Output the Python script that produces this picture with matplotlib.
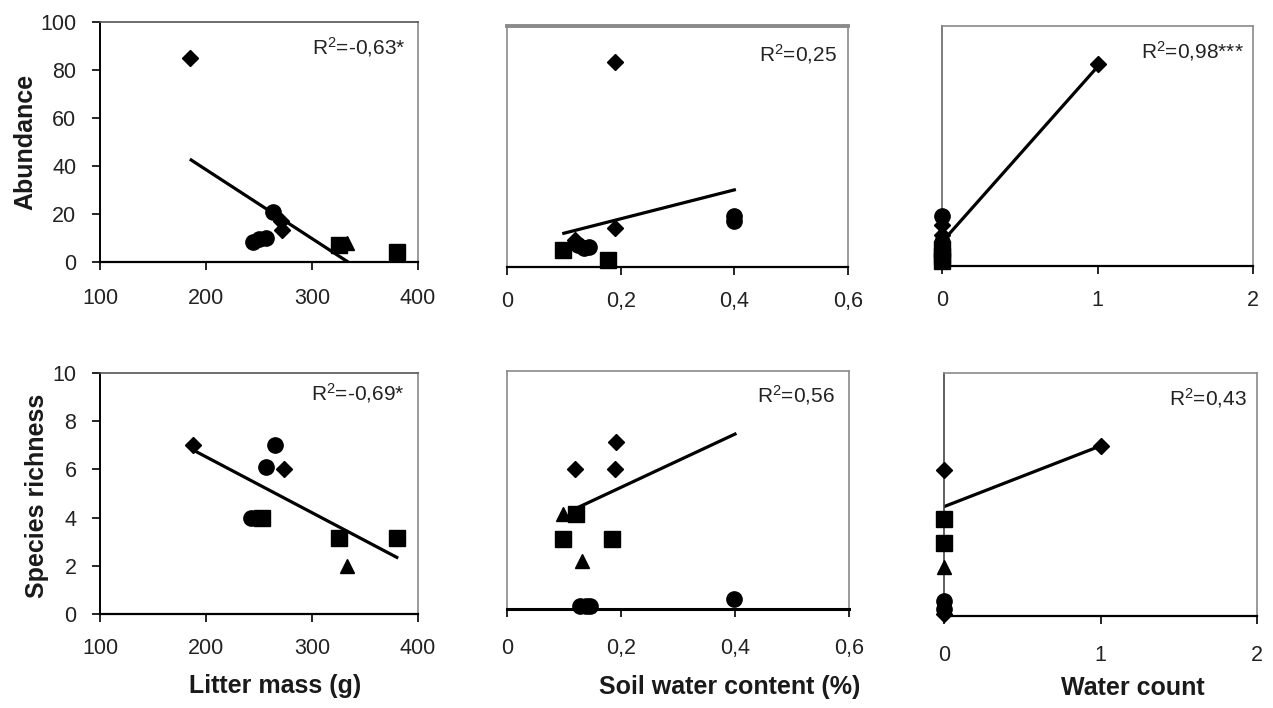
import numpy as np
from matplotlib import pyplot as plt

plt.rcParams['font.family'] = ['Liberation Sans', 'DejaVu Sans']
plt.rcParams['mathtext.default'] = 'regular'

# ---- data: marker -> (x values, y values) ----
# litter mass (g)
litter_abund = {
    'D': ([185, 271, 272], [85, 17, 13.5]),
    'o': ([263, 244, 250, 257], [21, 8.5, 9.5, 10]),
    's': ([325, 380], [7, 4]),
    '^': ([333], [8]),
}
litter_abund_fit = ([186, 334], [42.5, 0])
litter_abund_r2 = "R$^2$=-0,63*"

litter_rich = {
    'D': ([188, 274], [7.0, 6.0]),
    'o': ([265, 257, 242, 247], [7.0, 6.1, 4.0, 4.0]),
    's': ([253, 325, 380], [4.0, 3.15, 3.15]),
    '^': ([333], [2.0]),
}
litter_rich_fit = ([188, 380], [6.8, 2.35])
litter_rich_r2 = "R$^2$=-0,69*"

# soil water content (%)
soil_abund = {
    'D': ([0.19, 0.19, 0.12], [85, 16, 11]),
    'o': ([0.40, 0.40, 0.125, 0.135, 0.145], [21, 19, 9, 8, 8.5]),
    's': ([0.098, 0.177], [7, 3]),
}
soil_abund_fit = ([0.10, 0.40], [14, 32])
soil_abund_r2 = "R$^2$=0,25"

soil_rich = {
    'D': ([0.192, 0.119, 0.19], [7.0, 5.9, 5.9]),
    '^': ([0.099, 0.131], [4.0, 2.0]),
    's': ([0.121, 0.098, 0.184], [4.0, 2.95, 2.95]),
    'o': ([0.128, 0.138, 0.145, 0.398], [0.13, 0.13, 0.13, 0.42]),
}
soil_rich_fit = ([0.115, 0.40], [4.16, 7.35])
soil_rich_r2 = "R$^2$=0,56"

# water count
water_abund = {
    'D': ([1, 0, 0], [84, 17, 13]),
    'o': ([0, 0, 0, 0], [21, 10, 9, 8]),
    's': ([0, 0, 0], [7, 4, 2]),
    '^': ([0], [8]),
}
water_abund_fit = ([0, 1], [10, 83])
water_abund_r2 = "R$^2$=0,98***"

water_rich = {
    'D': ([1, 0, 0], [7.0, 6.0, 0.1]),
    's': ([0, 0], [4.0, 3.0]),
    '^': ([0], [2.0]),
    'o': ([0, 0], [0.6, 0.3]),
}
water_rich_fit = ([0, 1], [4.5, 7.0])
water_rich_r2 = "R$^2$=0,43"

litter_ticks = [100, 200, 300, 400]
soil_ticks = [0, 0.2, 0.4, 0.6]
soil_ticklabels = ['0', '0,2', '0,4', '0,6']
water_ticks = [0, 1, 2]
abund_ticks = [0, 20, 40, 60, 80, 100]
rich_ticks = [0, 2, 4, 6, 8, 10]

W, H = 1273, 708
GREY = '#8a8a8a'
MSIZE = {'D': 8.2, 'o': 11, 's': 12, '^': 10.5}


def box(l, t, r, b):
    return [l / W, 1 - b / H, (r - l) / W, (b - t) / H]


def draw(ax, groups, fit, r2, r2_pos, ylim):
    for m, (x, y) in groups.items():
        ax.plot(x, y, ls='none', marker=m, ms=MSIZE[m], color='black',
                mec='black', clip_on=False, zorder=3)
    ax.plot(fit[0], fit[1], color='black', lw=2.3, zorder=2)
    ax.text(r2_pos[0], r2_pos[1], r2, transform=ax.transAxes, ha='right',
            va='center', fontsize=15, color='#222222')
    ax.set_ylim(ylim)
    for s in ['top', 'right', 'left']:
        ax.spines[s].set_color(GREY)
        ax.spines[s].set_linewidth(1.2)
    ax.spines['bottom'].set_color('black')
    ax.spines['bottom'].set_linewidth(1.6)
    ax.tick_params(axis='x', direction='out', length=6, width=1.2,
                   labelsize=15.5, labelcolor='#222222')


fig = plt.figure(figsize=(W / 100, H / 100), dpi=100)

ax1 = fig.add_axes(box(100, 22, 418, 262))
draw(ax1, litter_abund, litter_abund_fit, litter_abund_r2, (0.962, 0.895), (0, 100))
ax2 = fig.add_axes(box(507, 26, 848, 267))
draw(ax2, soil_abund, soil_abund_fit, soil_abund_r2, (0.968, 0.885), (0, 100))
ax3 = fig.add_axes(box(942, 26, 1253, 266))
draw(ax3, water_abund, water_abund_fit, water_abund_r2, (0.972, 0.895), (0, 100))
ax4 = fig.add_axes(box(100, 373, 418, 614))
draw(ax4, litter_rich, litter_rich_fit, litter_rich_r2, (0.958, 0.915), (0, 10))
ax5 = fig.add_axes(box(507, 371, 849, 609))
draw(ax5, soil_rich, soil_rich_fit, soil_rich_r2, (0.958, 0.9), (0, 10))
ax6 = fig.add_axes(box(944, 373, 1257, 616))
draw(ax6, water_rich, water_rich_fit, water_rich_r2, (0.968, 0.895), (0, 10))

for ax in (ax1, ax4):
    ax.set_xlim(100, 400)
    ax.set_xticks(litter_ticks)
    ax.spines['left'].set_color('black')
    ax.spines['left'].set_linewidth(1.4)
    ax.spines['top'].set_color('#555555')
    ax.tick_params(axis='y', direction='out', length=6, width=1.2, pad=11,
                   labelsize=15.5, labelcolor='#222222')
ax1.set_yticks(abund_ticks)
ax4.set_yticks(rich_ticks)

for ax in (ax2, ax5):
    ax.set_xlim(0, 0.6)
    ax.set_xticks(soil_ticks)
    ax.set_xticklabels(soil_ticklabels)
for ax in (ax3, ax6):
    ax.set_xlim(0, 2)
    ax.set_xticks(water_ticks)
for ax in (ax2, ax3, ax5, ax6):
    ax.set_yticks([])
ax2.spines['top'].set_linewidth(2.8)
ax5.spines['bottom'].set_linewidth(2.2)
ax3.spines['left'].set_color('#666666')
ax6.spines['left'].set_color('#444444')

ax1.tick_params(axis='x', pad=13)
for ax in (ax2, ax3):
    ax.tick_params(axis='x', pad=11)
ax4.tick_params(axis='x', pad=11)
ax5.tick_params(axis='x', pad=15)
ax6.tick_params(axis='x', pad=15)

lab = dict(fontsize=18, fontweight='bold', color='#1a1a1a', ha='center', va='center')
fig.text(25 / W, 1 - 142 / H, 'Abundance', rotation=90, **lab)
fig.text(37 / W, 1 - 496 / H, 'Species richness', rotation=90, **lab)
fig.text(275 / W, 1 - 686 / H, 'Litter mass (g)', **lab)
fig.text(730 / W, 1 - 687 / H, 'Soil water content (%)', **lab)
fig.text(1133 / W, 1 - 688 / H, 'Water count', **lab)

fig.savefig('out.png', dpi=100)
